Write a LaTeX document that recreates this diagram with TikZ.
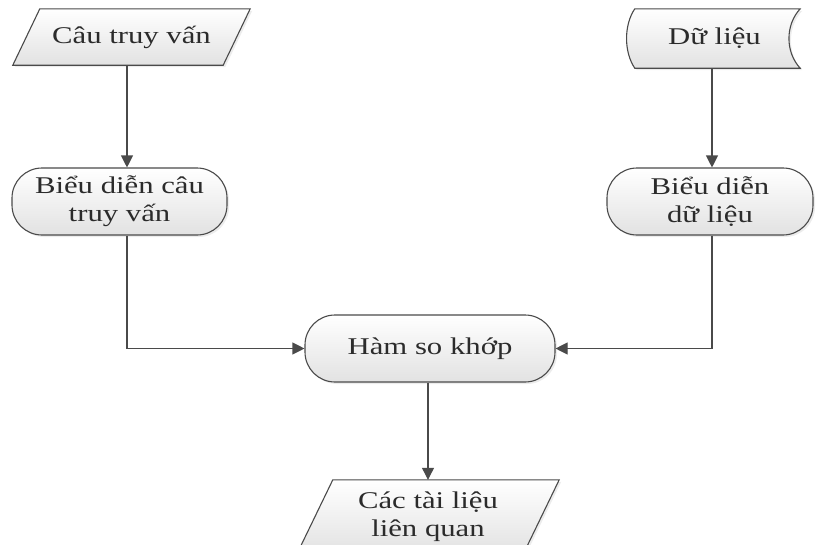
\documentclass[tikz,border=0pt]{standalone}
\usepackage{fontspec}
\setmainfont{Liberation Serif}[FakeStretch=1.28]
\usetikzlibrary{arrows.meta,shadows}
\definecolor{edge}{HTML}{4A4A4A}
\definecolor{ink}{HTML}{2B2B2B}
\definecolor{fillbot}{HTML}{E2E2E2}
\pgfdeclarelayer{bg}
\pgfsetlayers{bg,main}
\begin{document}
\begin{tikzpicture}[x=1pt,y=-1pt,
  shapebox/.style={draw=edge, line width=1.1pt, top color=white, bottom color=fillbot,
    drop shadow={opacity=0.15, shadow xshift=2pt, shadow yshift=-2pt}},
  label/.style={font=\fontsize{24}{28}\selectfont, text=ink, align=center, inner sep=0pt},
  stadium/.style={shapebox, label, rounded corners=30pt, minimum height=67pt},
  flow/.style={draw=edge, line width=1.1pt, -{Triangle[length=12pt,width=12pt]}}]
\useasboundingbox (0,0) rectangle (817,544);
\clip (0,0) rectangle (817,544);

% input: query (parallelogram)
\node[label, minimum width=237pt, minimum height=56pt] (q) at (131.5,37) {Câu truy vấn};
% input: data (stored-data shape)
\node[label, minimum width=175pt, minimum height=59pt] (d) at (714.5,38.5) {Dữ liệu};
% representations
\node[stadium, minimum width=215pt] (rq) at (119.5,201.5) {Biểu diễn câu\\truy vấn};
\node[stadium, minimum width=206pt] (rd) at (710,201.5) {Biểu diễn\\dữ liệu};
% matching function
\node[stadium, minimum width=250pt] (h) at (430,348.5) {Hàm so khớp};
% output (parallelogram), running past the lower edge
\node[label, minimum width=262pt, minimum height=74pt] (r) at (428,517) {Các tài liệu\\liên quan};

\begin{pgfonlayer}{bg}
  \path[shapebox] ([xshift=27pt]q.north west) -- (q.north east)
    -- ([xshift=-27pt]q.south east) -- (q.south west) -- cycle;
  \path[shapebox] ([xshift=8pt]d.north west) -- ([xshift=-2pt]d.north east)
    .. controls +(-15,16) and +(-15,-16) .. ([xshift=-2pt]d.south east)
    -- ([xshift=8pt]d.south west)
    .. controls +(-11,-16) and +(-11,16) .. ([xshift=8pt]d.north west) -- cycle;
  \path[shapebox] ([xshift=36pt]r.north west) -- (r.north east)
    -- ([xshift=-36pt]r.south east) -- (r.south west) -- cycle;
\end{pgfonlayer}

% connectors
\coordinate (lx) at (127,0);
\coordinate (rx) at (712,0);
\draw[flow] (q.south -| lx) -- (rq.north -| lx);
\draw[flow] (d.south -| rx) -- (rd.north -| rx);
\draw[flow] (rq.south -| lx) |- (h.west);
\draw[flow] (rd.south -| rx) |- (h.east);
\draw[flow] (h.south -| r.north) -- (r.north);
\end{tikzpicture}
\end{document}
